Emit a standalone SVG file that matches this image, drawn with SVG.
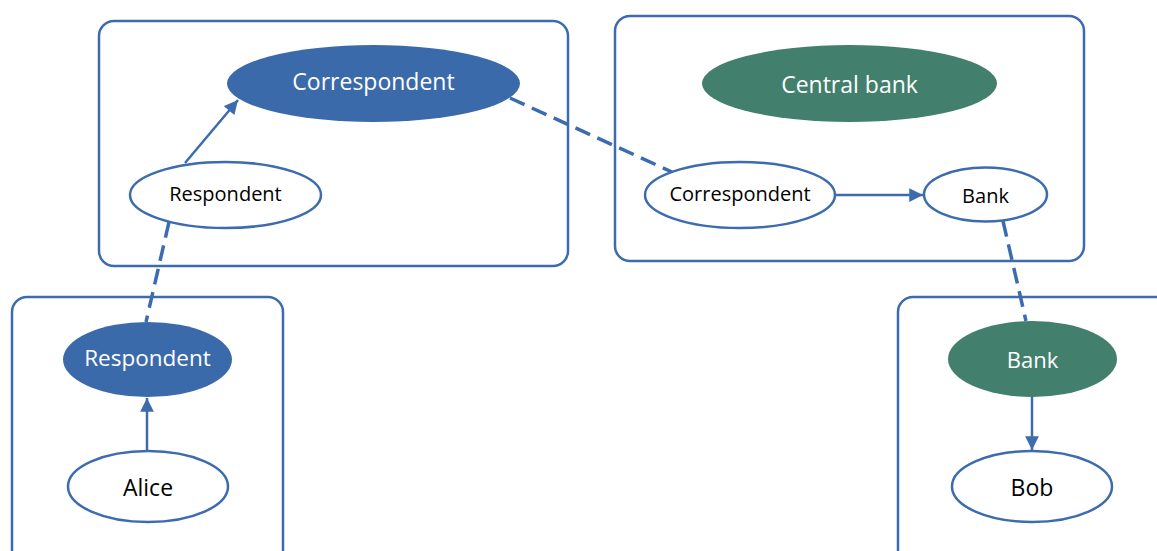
<svg xmlns="http://www.w3.org/2000/svg" width="1157" height="551" viewBox="0 0 1157 551">
  <style>
    .box { fill: none; stroke: #3d6cae; stroke-width: 2.5; }
    .blue { fill: #3b6aab; }
    .green { fill: #427f6d; }
    .plain { fill: #ffffff; stroke: #3d6cae; stroke-width: 2.5; }
    .lbl { font-family: "Open Sans", "Noto Sans", sans-serif; text-anchor: middle; dominant-baseline: central; }
    .w { fill: #ffffff; }
    .k { fill: #000000; }
    .edge { fill: none; stroke: #3d6cae; stroke-width: 2.5; }
    .dash { stroke-dasharray: 16 8; stroke-width: 3.5; }
  </style>
  <defs>
    <marker id="arrow" viewBox="0 0 10 10" refX="10" refY="5" markerWidth="6" markerHeight="5.5" markerUnits="strokeWidth" orient="auto">
      <path d="M0,0 L10,5 L0,10 z" fill="#3d6cae"/>
    </marker>
  </defs>

  <!-- clusters -->
  <g id="cluster-left-top"><rect class="box" x="99" y="21" width="469" height="245" rx="15"/></g>
  <g id="cluster-right-top"><rect class="box" x="615" y="16" width="469" height="245" rx="15"/></g>
  <g id="cluster-left-bottom"><rect class="box" x="12" y="297" width="271" height="270" rx="15"/></g>
  <g id="cluster-right-bottom"><rect class="box" x="898" y="297" width="280" height="270" rx="15"/></g>

  <!-- connectors -->
  <g id="connectors">
    <line class="edge" x1="185" y1="163" x2="238" y2="100" marker-end="url(#arrow)"/>
    <line class="edge dash" x1="169" y1="222" x2="146" y2="322"/>
    <line class="edge dash" x1="510" y1="98" x2="672" y2="172"/>
    <line class="edge" x1="835" y1="195" x2="923" y2="195" marker-end="url(#arrow)"/>
    <line class="edge dash" x1="1003" y1="221" x2="1026" y2="321"/>
    <line class="edge" x1="1032" y1="397" x2="1032" y2="450" marker-end="url(#arrow)"/>
    <line class="edge" x1="147" y1="451" x2="147" y2="398" marker-end="url(#arrow)"/>
  </g>

  <!-- nodes -->
  <g id="correspondent-a">
    <ellipse class="blue" cx="373.5" cy="83.5" rx="146.5" ry="38.5"/>
    <text class="lbl w" x="373.5" y="81" font-size="23">Correspondent</text>
  </g>
  <g id="respondent-a">
    <ellipse class="plain" cx="225.5" cy="195" rx="95.5" ry="33"/>
    <text class="lbl k" x="225.5" y="193" font-size="20">Respondent</text>
  </g>
  <g id="central-bank">
    <ellipse class="green" cx="849.5" cy="83.5" rx="147.5" ry="38.5"/>
    <text class="lbl w" x="849.5" y="84" font-size="23">Central bank</text>
  </g>
  <g id="correspondent-b">
    <ellipse class="plain" cx="740" cy="195" rx="95" ry="33"/>
    <text class="lbl k" x="740" y="193" font-size="20">Correspondent</text>
  </g>
  <g id="bank-a">
    <ellipse class="plain" cx="985.5" cy="194.5" rx="61.5" ry="27"/>
    <text class="lbl k" x="985.5" y="195" font-size="20">Bank</text>
  </g>
  <g id="respondent-b">
    <ellipse class="blue" cx="147.5" cy="359.5" rx="84.5" ry="37.5"/>
    <text class="lbl w" x="147.5" y="357" font-size="22.5">Respondent</text>
  </g>
  <g id="alice">
    <ellipse class="plain" cx="148" cy="486.5" rx="80" ry="35.5"/>
    <text class="lbl k" x="148" y="487" font-size="23">Alice</text>
  </g>
  <g id="bank-b">
    <ellipse class="green" cx="1032.5" cy="359" rx="84.5" ry="38"/>
    <text class="lbl w" x="1032.5" y="359" font-size="22">Bank</text>
  </g>
  <g id="bob">
    <ellipse class="plain" cx="1032" cy="486.5" rx="80" ry="35.5"/>
    <text class="lbl k" x="1032" y="487" font-size="23">Bob</text>
  </g>
</svg>
